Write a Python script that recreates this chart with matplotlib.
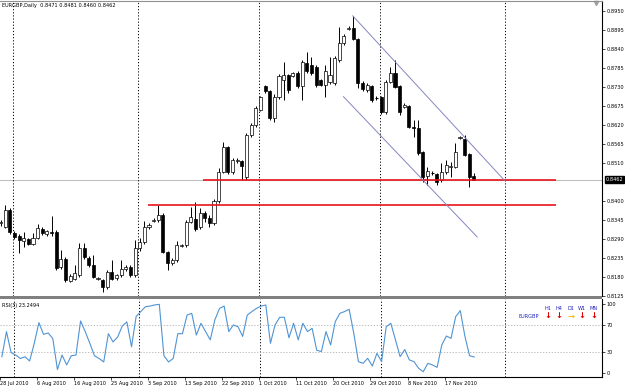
import matplotlib
matplotlib.use("Agg")
import matplotlib.pyplot as plt
from matplotlib.patches import Rectangle
import matplotlib.transforms as mtransforms

# EURGBP daily, bar 0 = 28 Jul 2010 (feed has sunday bars)
opens = [0.8335, 0.8326, 0.8374, 0.8307, 0.8299, 0.8283, 0.8290, 0.8276, 0.8293, 0.8319,
         0.8305, 0.8310, 0.8310, 0.8208, 0.8232, 0.8168, 0.8174, 0.8186, 0.8264, 0.8235,
         0.8215, 0.8174, 0.8171, 0.8151, 0.8194, 0.8177, 0.8186, 0.8203, 0.8209, 0.8186,
         0.8264, 0.8281, 0.8325, 0.8342, 0.8345, 0.8360, 0.8252, 0.8220, 0.8229, 0.8270,
         0.8272, 0.8339, 0.8348, 0.8325, 0.8365, 0.8350, 0.8335, 0.8400, 0.8484, 0.8556,
         0.8484, 0.8516, 0.8516, 0.8470, 0.8591, 0.8620, 0.8663, 0.8733, 0.8718, 0.8640,
         0.8701, 0.8750, 0.8765, 0.8762, 0.8771, 0.8733, 0.8800, 0.8794, 0.8788, 0.8750,
         0.8736, 0.8744, 0.8742, 0.8808, 0.8857, 0.8898, 0.8901, 0.8869, 0.8742, 0.8721,
         0.8733, 0.8698, 0.8701, 0.8658, 0.8744, 0.8771, 0.8733, 0.8672, 0.8675, 0.8614,
         0.8611, 0.8542, 0.8472, 0.8481, 0.8478, 0.8461, 0.8484, 0.8498, 0.8498, 0.8582,
         0.8579, 0.8536, 0.8471]
highs = [0.8345, 0.8388, 0.8380, 0.8312, 0.8303, 0.8310, 0.8293, 0.8307, 0.8333, 0.8325,
         0.8316, 0.8357, 0.8316, 0.8258, 0.8238, 0.8190, 0.8215, 0.8278, 0.8278, 0.8241,
         0.8244, 0.8180, 0.8175, 0.8200, 0.8229, 0.8190, 0.8229, 0.8215, 0.8215, 0.8287,
         0.8293, 0.8342, 0.8336, 0.8350, 0.8388, 0.8365, 0.8256, 0.8235, 0.8284, 0.8276,
         0.8345, 0.8383, 0.8397, 0.8380, 0.8372, 0.8360, 0.8405, 0.8495, 0.8571, 0.8560,
         0.8525, 0.8525, 0.8519, 0.8597, 0.8626, 0.8675, 0.8704, 0.8736, 0.8721, 0.8710,
         0.8768, 0.8802, 0.8768, 0.8774, 0.8777, 0.8808, 0.8831, 0.8817, 0.8794, 0.8753,
         0.8794, 0.8817, 0.8820, 0.8904, 0.8884, 0.8907, 0.8936, 0.8872, 0.8748, 0.8742,
         0.8736, 0.8704, 0.8704, 0.8750, 0.8788, 0.8808, 0.8736, 0.8684, 0.8678, 0.8634,
         0.8634, 0.8545, 0.8498, 0.8487, 0.8481, 0.8510, 0.8519, 0.8513, 0.8568, 0.8588,
         0.8591, 0.8539, 0.8481]
lows = [0.8328, 0.8322, 0.8305, 0.8290, 0.8249, 0.8267, 0.8272, 0.8272, 0.8290, 0.8302,
        0.8300, 0.8300, 0.8200, 0.8203, 0.8165, 0.8165, 0.8170, 0.8180, 0.8232, 0.8209,
        0.8177, 0.8170, 0.8136, 0.8145, 0.8170, 0.8172, 0.8180, 0.8197, 0.8180, 0.8180,
        0.8255, 0.8275, 0.8319, 0.8338, 0.8340, 0.8248, 0.8200, 0.8215, 0.8224, 0.8266,
        0.8266, 0.8335, 0.8313, 0.8320, 0.8340, 0.8325, 0.8330, 0.8395, 0.8480, 0.8478,
        0.8478, 0.8510, 0.8461, 0.8461, 0.8585, 0.8615, 0.8660, 0.8712, 0.8635, 0.8630,
        0.8695, 0.8692, 0.8712, 0.8759, 0.8727, 0.8692, 0.8770, 0.8765, 0.8730, 0.8733,
        0.8701, 0.8738, 0.8736, 0.8802, 0.8851, 0.8895, 0.8865, 0.8727, 0.8718, 0.8715,
        0.8686, 0.8692, 0.8652, 0.8652, 0.8742, 0.8727, 0.8649, 0.8668, 0.8610, 0.8585,
        0.8533, 0.8455, 0.8446, 0.8476, 0.8446, 0.8455, 0.8478, 0.8469, 0.8495, 0.8579,
        0.8530, 0.8440, 0.8460]
closes = [0.8340, 0.8374, 0.8310, 0.8296, 0.8287, 0.8292, 0.8276, 0.8293, 0.8322, 0.8307,
          0.8312, 0.8307, 0.8206, 0.8232, 0.8171, 0.8183, 0.8192, 0.8264, 0.8238, 0.8215,
          0.8180, 0.8176, 0.8151, 0.8194, 0.8174, 0.8186, 0.8203, 0.8209, 0.8186, 0.8264,
          0.8281, 0.8325, 0.8330, 0.8345, 0.8360, 0.8252, 0.8220, 0.8229, 0.8272, 0.8272,
          0.8339, 0.8353, 0.8319, 0.8365, 0.8350, 0.8335, 0.8400, 0.8484, 0.8556, 0.8484,
          0.8519, 0.8519, 0.8502, 0.8591, 0.8620, 0.8669, 0.8701, 0.8718, 0.8640, 0.8701,
          0.8762, 0.8765, 0.8721, 0.8771, 0.8733, 0.8802, 0.8776, 0.8771, 0.8736, 0.8736,
          0.8776, 0.8765, 0.8814, 0.8857, 0.8878, 0.8901, 0.8869, 0.8742, 0.8724, 0.8736,
          0.8692, 0.8698, 0.8658, 0.8744, 0.8771, 0.8730, 0.8658, 0.8678, 0.8614, 0.8611,
          0.8539, 0.8469, 0.8487, 0.8481, 0.8455, 0.8484, 0.8504, 0.8500, 0.8542, 0.8585,
          0.8533, 0.8469, 0.8462]

rsi = [23.6, 60, 29.5, 26, 21, 23.6, 17.4, 43, 73, 56,
       58, 50, 5, 26, 11.7, 25, 26, 75.4, 60, 43,
       25, 21, 16, 57, 45, 52, 68, 74, 38, 82,
       89, 96, 97, 98.6, 99.5, 25, 16, 21, 57, 57,
       84, 86.5, 55, 72, 60, 48, 77, 93.6, 97, 60,
       69.6, 67, 53, 84, 89, 93.6, 97, 98.5, 43, 69.6,
       80.7, 80.7, 51, 72, 48, 72, 60, 64.7, 33, 31,
       60, 40.6, 74.4, 86.5, 89, 92.3, 57.5, 16.4, 14, 21.3,
       10.1, 28.5, 16.4, 67, 72, 48, 23.7, 34, 19, 16.4,
       6.8, 1.9, 14, 11.6, 8.2, 40.6, 53.6, 50.2, 81.6, 90.4,
       53, 25, 23.25]

date_idx = [0, 8, 16, 24, 32, 40, 48, 56, 64, 72, 80, 88, 96]
date_labels = ["28 Jul 2010", "6 Aug 2010", "16 Aug 2010", "25 Aug 2010", "3 Sep 2010",
               "13 Sep 2010", "22 Sep 2010", "1 Oct 2010", "11 Oct 2010", "20 Oct 2010",
               "29 Oct 2010", "8 Nov 2010", "17 Nov 2010"]
month_sep = [2.6, 29.6, 55.7, 81.8, 108.7]
price_ticks = [0.8950, 0.8895, 0.8840, 0.8785, 0.8730, 0.8675, 0.8620, 0.8565, 0.8510,
               0.8400, 0.8345, 0.8290, 0.8235, 0.8180, 0.8125]
bid = 0.8462
support_lines = [(43.6, 0.8462), (31.8, 0.8388)]   # start bar, level (both run to bar 119.7)
channel_upper = ([75.9, 108.7], [0.8936, 0.8458])
channel_lower = ([73.9, 102.7], [0.8702, 0.8296])
tf_names = ["H1", "H4", "D1", "W1", "MN"]
tf_dirs = ["down", "down", "right", "down", "down"]

FS = 3.6
fig = plt.figure(figsize=(6.25, 3.88), dpi=100)
ax = fig.add_axes([0, 0.2371, 0.9632, 0.7603])
ax2 = fig.add_axes([0, 0.02835, 0.9632, 0.201])

n = len(closes)
xs = list(range(n))
ax.vlines(xs, lows, highs, color="black", lw=0.7, zorder=3)
for i in xs:
    o, c = opens[i], closes[i]
    up = c >= o
    h = abs(c - o)
    if h < 0.00012:
        ax.hlines(c, i - 0.33, i + 0.33, color="black", lw=0.8, zorder=4)
        continue
    ax.add_patch(Rectangle((i - 0.33, min(o, c)), 0.66, h,
                           facecolor="white" if up else "black",
                           edgecolor="black", lw=0.5, zorder=4))

ax.set_xlim(-0.11, 129.6)
ax.set_ylim(0.81249, 0.8979)
ax.axhline(bid, color="#c0c0c0", lw=0.8, zorder=1)
for start, lvl in support_lines:
    ax.hlines(lvl, start, 119.7, color="#e8141b", lw=1.2, zorder=5)
ax.plot(*channel_upper, color="#8585c0", lw=0.7, zorder=5)
ax.plot(*channel_lower, color="#8585c0", lw=0.7, zorder=5)

for a in (ax, ax2):
    for s in month_sep:
        a.axvline(s, color="black", lw=0.7, ls=(0, (1.2, 2)), zorder=1)
    a.set_xlim(-0.11, 129.6)
    a.spines["left"].set_visible(False)
    a.spines["right"].set_color("black")
    a.spines["right"].set_linewidth(0.8)
    a.yaxis.tick_right()
    a.tick_params(axis="y", direction="out", length=2, width=0.5, labelsize=FS, pad=1)

ax.spines["bottom"].set_visible(False)
ax.spines["top"].set_color("#909090")
ax.set_yticks(price_ticks)
ax.set_yticklabels([f"{p:.4f}" for p in price_ticks])
ax.set_xticks([])

trans = mtransforms.blended_transform_factory(ax.transAxes, ax.transData)
ax.text(1.006, bid, f"{bid:.4f}", transform=trans, fontsize=FS, color="white",
        va="center", ha="left",
        bbox=dict(boxstyle="square,pad=0.15", fc="black", ec="black"))
ax.text(0.004, 0.993, "EURGBP,Daily  0.8471 0.8481 0.8460 0.8462", transform=ax.transAxes,
        fontsize=FS, va="top", ha="left")
ax.plot([128.3], [0.8972], marker="v", color="#a0a0a0", ms=3, clip_on=False)

# RSI panel
ax2.plot(xs, rsi, color="#4f94d4", lw=0.8, zorder=3)
for lvl in (70, 30):
    ax2.axhline(lvl, color="#b0b0b0", lw=0.6, ls=(0, (1.5, 2)), zorder=1)
ax2.set_ylim(-5.8, 107.2)
ax2.set_yticks([100, 70, 30, 0])
ax2.set_yticklabels(["100", "70", "30", "0"])
ax2.spines["top"].set_visible(False)
ax2.spines["bottom"].set_linewidth(0.8)
ax2.set_xticks([i - 0.4 for i in date_idx])
ax2.set_xticklabels(date_labels, ha="left")
ax2.tick_params(axis="x", direction="out", length=2, width=0.5, labelsize=FS, pad=1)
ax2.text(0.004, 0.95, "RSI(3) 23.2494", transform=ax2.transAxes, fontsize=FS,
         va="top", ha="left")

# panel separator
fig.patches.append(Rectangle((0, 1 - 299 / 388), 0.9632, 3 / 388, transform=fig.transFigure,
                             facecolor="#808080", edgecolor="none", zorder=10))

# trend dashboard
tf_x = [548, 559, 571, 582, 594]
for name, d, px in zip(tf_names, tf_dirs, tf_x):
    fig.text(px / 625, 1 - 308 / 388, name, fontsize=FS, color="#2020c0",
             ha="center", va="center")
    if d == "down":
        fig.text(px / 625, 1 - 316 / 388, "\u2193", fontsize=6, color="#e00000",
                 ha="center", va="center", fontweight="bold")
    else:
        fig.text(px / 625, 1 - 316 / 388, "\u2192", fontsize=6, color="#f0c000",
                 ha="center", va="center", fontweight="bold")
fig.text(529 / 625, 1 - 316 / 388, "EURGBP", fontsize=FS, color="#2020c0",
         ha="center", va="center")

fig.savefig("out.png", dpi=100)
